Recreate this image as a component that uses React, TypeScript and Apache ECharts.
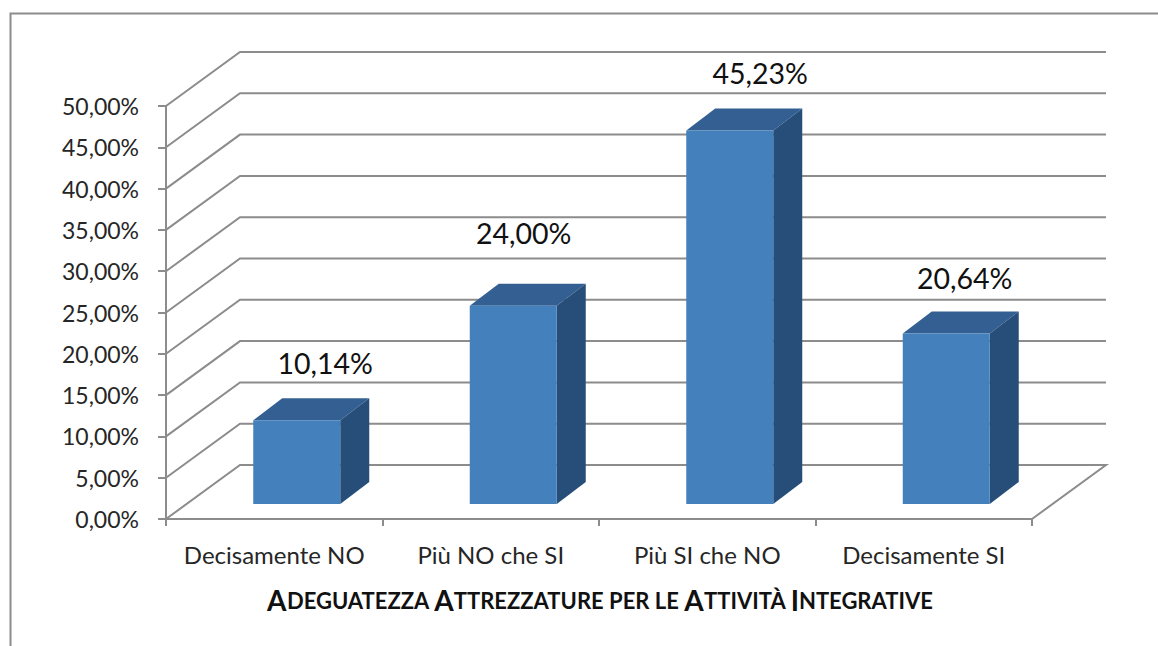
import React, { useEffect, useRef } from "react";
import * as echarts from "echarts";

const categories = ["Decisamente NO", "Più NO che SI", "Più SI che NO", "Decisamente SI"];
const values = [10.14, 24.0, 45.23, 20.64];
const gridTicks = [0, 5, 10, 15, 20, 25, 30, 35, 40, 45, 50];

const FONT = "Lato";
const fmt = (v: number) => v.toFixed(2).replace(".", ",") + "%";

const WALL_DX = 74;
const WALL_DY = -54;
const BAR_DX = 22.5;
const BAR_DY = -15;
const DEPTH_DX = 29;
const DEPTH_DY = -22;
const BAR_W = 87;
const LABEL_SHIFT_X = [28.5, 10.5, 30.5, 18.5];
const LABEL_SHIFT_Y = [-57.5, -72.5, -57, -55.5];

const titleParts: [string, string][] = [
  ["A", "b"], ["DEGUATEZZA ", "s"], ["A", "b"], ["TTREZZATURE PER LE ", "s"],
  ["A", "b"], ["TTIVITÀ ", "s"], ["I", "b"], ["NTEGRATIVE", "s"],
];

export default function App() {
  const ref = useRef<HTMLDivElement>(null);
  useEffect(() => {
    const chart = echarts.init(ref.current!, undefined, { renderer: "svg" });
    chart.setOption({
      animation: false,
      backgroundColor: "#ffffff",
      grid: { left: 166, right: 126, top: 106, bottom: 127, containLabel: false },
      xAxis: {
        type: "category",
        data: categories,
        boundaryGap: true,
        axisLine: { lineStyle: { color: "#8c8c8c", width: 2 } },
        axisTick: { show: true, interval: 0, alignWithLabel: false, length: 7, lineStyle: { color: "#8c8c8c", width: 2 } },
        axisLabel: { color: "#262626", fontFamily: FONT, fontSize: 24, margin: 23, interval: 0, hideOverlap: false },
        splitLine: { show: false },
      },
      yAxis: {
        type: "value",
        min: 0,
        max: 50,
        interval: 5,
        axisLine: { show: true, lineStyle: { color: "#8c8c8c", width: 2 } },
        axisTick: { show: true, length: 8, lineStyle: { color: "#8c8c8c", width: 2 } },
        axisLabel: { color: "#262626", fontFamily: FONT, fontSize: 23, margin: 27, padding: [5, 0, 0, 0], formatter: (v: number) => fmt(v) },
        splitLine: { show: false },
      },
      graphic: [
        {
          type: "polyline",
          silent: true,
          shape: { points: [[10.5, 646], [10.5, 13.5], [1158, 13.5]] },
          style: { stroke: "#8c8c8c", lineWidth: 2, fill: "none" },
        },
        {
          type: "text",
          x: 600,
          y: 600,
          style: {
            text: titleParts.map(([t, k]) => `{${k}|${t}}`).join(""),
            align: "center",
            verticalAlign: "middle",
            rich: {
              b: { fontFamily: FONT, fontWeight: "bold", fontSize: 28, fill: "#111111" },
              s: { fontFamily: FONT, fontWeight: "bold", fontSize: 22, fill: "#111111" },
            },
          },
        },
      ],
      series: [
        {
          type: "custom",
          silent: true,
          z: 1,
          data: gridTicks.map((t) => [0, t]),
          encode: { x: 0, y: 1 },
          renderItem: (params: any, api: any) => {
            const v = api.value(1);
            const [, y] = api.coord([0, v]);
            const left = params.coordSys.x;
            const right = left + params.coordSys.width;
            const pts =
              v === 0
                ? [[left, y], [left + WALL_DX, y + WALL_DY], [right + WALL_DX, y + WALL_DY], [right, y]]
                : [[left, y], [left + WALL_DX, y + WALL_DY], [right + WALL_DX, y + WALL_DY]];
            return {
              type: "polyline",
              shape: { points: pts },
              style: { stroke: "#8c8c8c", lineWidth: 2, fill: "none" },
            };
          },
        },
        {
          type: "custom",
          z: 3,
          data: values.map((v, i) => [i, v]),
          encode: { x: 0, y: 1 },
          renderItem: (params: any, api: any) => {
            const i = params.dataIndex;
            const [cx, yTop0] = api.coord([api.value(0), api.value(1)]);
            const [, yBase0] = api.coord([api.value(0), 0]);
            const l = cx - BAR_W / 2 + BAR_DX;
            const r = l + BAR_W;
            const t = yTop0 + BAR_DY;
            const b = yBase0 + BAR_DY;
            const d = [DEPTH_DX, DEPTH_DY];
            return {
              type: "group",
              children: [
                { type: "polygon", shape: { points: [[l, t], [r, t], [r + d[0], t + d[1]], [l + d[0], t + d[1]]] }, style: { fill: "#345F92" } },
                { type: "polygon", shape: { points: [[r, t], [r + d[0], t + d[1]], [r + d[0], b + d[1]], [r, b]] }, style: { fill: "#274E78" } },
                { type: "rect", shape: { x: l, y: t, width: BAR_W, height: b - t }, style: { fill: "#4481BC" } },
                {
                  type: "text",
                  x: l + BAR_W / 2 + LABEL_SHIFT_X[i],
                  y: t + LABEL_SHIFT_Y[i],
                  style: {
                    text: fmt(api.value(1)),
                    align: "center",
                    verticalAlign: "middle",
                    fontFamily: FONT,
                    fontSize: 28.5,
                    fill: "#111111",
                  },
                },
              ],
            };
          },
        },
      ],
    });
    return () => chart.dispose();
  }, []);
  return <div ref={ref} style={{ position: "fixed", left: 0, top: 0, width: 1158, height: 646 }} />;
}
